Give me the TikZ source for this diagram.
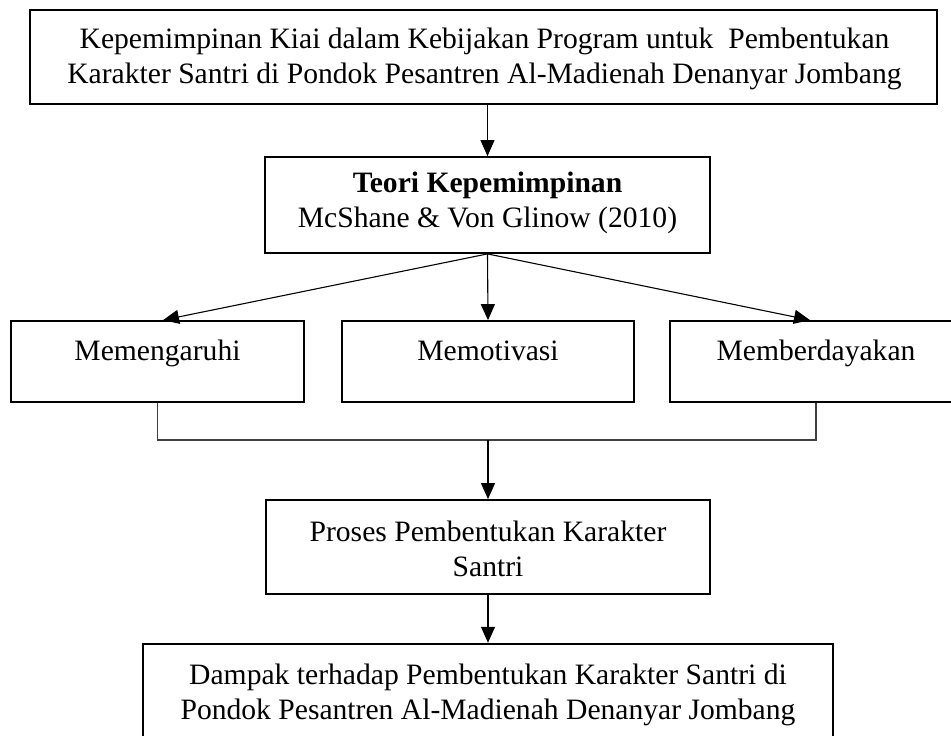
\documentclass[tikz,border=0pt]{standalone}
\usepackage{fontspec}
\setmainfont{Liberation Serif}
\usetikzlibrary{arrows.meta,calc}
\tikzset{
  boxa/.style={draw=black, line width=1.8pt, inner sep=0pt, fill=white},
  boxthick/.style={boxa, line width=2.4pt},
  txt/.style={inner sep=0pt, align=center, font=\fontsize{29.6}{34.5}\selectfont},
  arr/.style={draw=black, line width=1.1pt, -{Triangle[length=16pt,width=14pt]}},
  brk/.style={draw=black!75, line width=1.5pt},
}
\begin{document}
\begin{tikzpicture}[x=1pt,y=-1pt]
\useasboundingbox (0,0) rectangle (951,736);
\clip (0,0) rectangle (951,736);
\fill[white] (0,0) rectangle (951,736);
% boxes
\node[boxthick, minimum width=907pt, minimum height=94pt] (top) at (483.5,57) {};
\node[boxa, minimum width=445pt, minimum height=96pt] (teori) at (487.5,205) {};
\node[boxa, minimum width=293pt, minimum height=81pt] (m1) at (157.5,361.5) {};
\node[boxa, minimum width=292pt, minimum height=81pt] (m2) at (488,361.5) {};
\node[boxa, minimum width=292pt, minimum height=81pt] (m3) at (816,361.5) {};
\node[boxa, minimum width=444pt, minimum height=94pt] (proses) at (488,547) {};
\node[boxthick, minimum width=690pt, minimum height=116pt] (dampak) at (488,702) {};
% texts
\node[txt] (ttop) at (484.5,59) {Kepemimpinan Kiai dalam Kebijakan Program untuk~ Pembentukan\\Karakter Santri di Pondok Pesantren Al-Madienah Denanyar Jombang};
\node[txt] (tteori) at (487.5,203) {\textbf{Teori Kepemimpinan}\\McShane \& Von Glinow (2010)};
\node[txt, anchor=base] (tm1) at (157.5,360) {Memengaruhi};
\node[txt, anchor=base] (tm2) at (488,360) {Memotivasi};
\node[txt, anchor=base] (tm3) at (816,360) {Memberdayakan};
\node[txt] (tproses) at (488,549) {Proses Pembentukan Karakter\\Santri};
\node[txt, anchor=base] (tdampak) at (488,719) {Dampak terhadap Pembentukan Karakter Santri di\\Pondok Pesantren Al-Madienah Denanyar Jombang};
% connectors
\coordinate (src) at (teori.south);
\coordinate (j) at (488,440);
\draw[arr] (top.south -| teori.south) -- (teori.north);
\draw[arr] (src) -- (m1.north -| 163,0);
\draw[arr] (src) -- (m2.north);
\draw[arr] (src) -- (m3.north -| 810,0);
\draw[brk] (m1.south) |- (j) -| (m3.south);
\draw[arr] (j) -- (proses.north);
\draw[arr] (proses.south) -- (dampak.north);
\end{tikzpicture}
\end{document}
